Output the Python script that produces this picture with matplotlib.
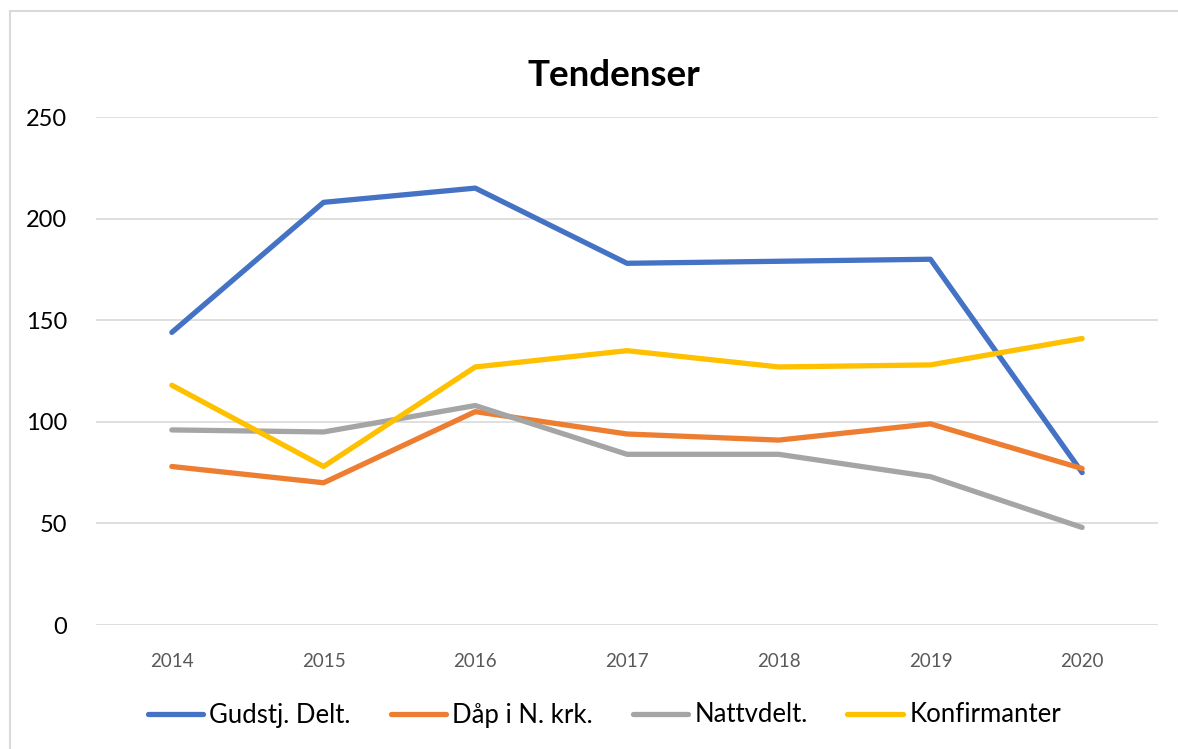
import matplotlib.pyplot as plt
from matplotlib.lines import Line2D

years = ["2014", "2015", "2016", "2017", "2018", "2019", "2020"]
gudstj = [144, 208, 215, 178, 179, 180, 75]
daap = [78, 70, 105, 94, 91, 99, 77]
nattvdelt = [96, 95, 108, 84, 84, 73, 48]
konfirmanter = [118, 78, 127, 135, 127, 128, 141]

series = [
    ("Gudstj. Delt.", gudstj, "#4472C4"),
    ("Dåp i N. krk.", daap, "#ED7D31"),
    ("Nattvdelt.", nattvdelt, "#A5A5A5"),
    ("Konfirmanter", konfirmanter, "#FFC000"),
]

plt.rcParams["font.family"] = ["Lato", "DejaVu Sans"]

W, H = 1178, 749
fig = plt.figure(figsize=(W / 100, H / 100), dpi=100)
fig.patch.set_facecolor("white")

# chart frame: only top and left edges are visible in the crop
bx, by = 10 / W, 1 - 11 / H
fig.add_artist(Line2D([bx, 1.0], [by, by], transform=fig.transFigure,
                      color="#D9D9D9", linewidth=1.5))
fig.add_artist(Line2D([bx, bx], [0.0, by], transform=fig.transFigure,
                      color="#D9D9D9", linewidth=1.5))

ax = fig.add_axes([96 / W, 1 - 625 / H, (1158 - 96) / W, (625 - 117) / H])
x = list(range(len(years)))
for label, vals, color in series:
    ax.plot(x, vals, color=color, linewidth=3.8, label=label,
            solid_capstyle="round", solid_joinstyle="round")

ax.set_xlim(-0.5, len(years) - 0.5)
ax.set_ylim(0, 250)
ax.set_yticks([0, 50, 100, 150, 200, 250])
ax.set_xticks(x)
ax.set_xticklabels(years)
ax.grid(axis="y", color="#D9D9D9", linewidth=1.2)
ax.set_axisbelow(True)
for s in ax.spines.values():
    s.set_visible(False)
ax.tick_params(axis="y", length=0, pad=21, labelsize=17, labelcolor="black")
ax.tick_params(axis="x", length=0, pad=20, labelsize=13.5, labelcolor="#595959")

fig.text(0.521, 1 - 75 / H, "Tendenser", ha="center", va="center",
         fontsize=26.5, fontweight="bold")

fig.legend(loc="center", bbox_to_anchor=(0.513, 1 - 715 / H), ncol=4,
           frameon=False, fontsize=18.5, handlelength=2.15, handletextpad=0.25,
           columnspacing=1.55)

fig.savefig("out.png", dpi=100)
